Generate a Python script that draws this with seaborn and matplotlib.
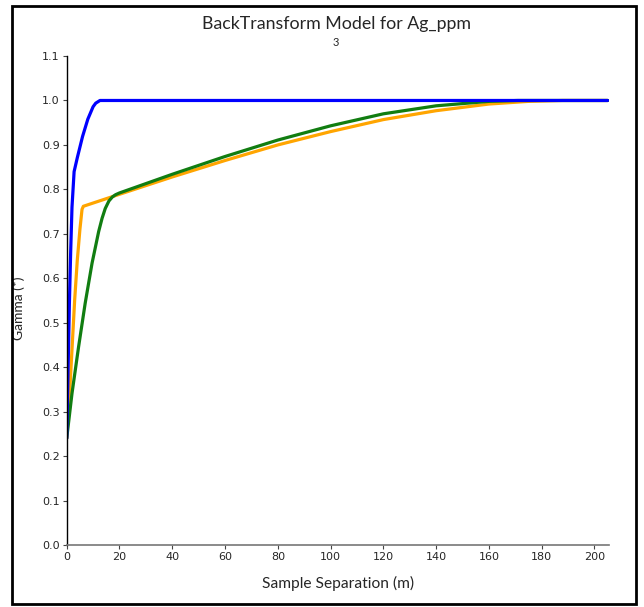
import pandas as pd
import seaborn as sns
import matplotlib.pyplot as plt
from matplotlib.patches import Rectangle

# model curves (lag in m, gamma)
blue_x = [0, 0.5, 1, 1.5, 2, 2.8, 4, 6, 8, 10, 11, 12.6, 205]
blue_y = [0.24, 0.39, 0.54, 0.66, 0.76, 0.84, 0.871, 0.919, 0.958, 0.986, 0.994, 1.0, 1.0]

orange_x = [0, 1, 2, 3, 4, 5, 5.8, 6.3, 20, 40, 60, 80, 100, 120, 140, 160, 175, 188, 205]
orange_y = [0.24, 0.33, 0.44, 0.55, 0.64, 0.71, 0.755, 0.762, 0.789, 0.828, 0.865, 0.900,
            0.930, 0.957, 0.977, 0.992, 0.998, 1.0, 1.0]

green_x = [0, 2, 4.5, 7, 9.6, 12.1, 13.4, 14.6, 16.0, 17.3, 18.5, 20, 40, 60, 80, 100, 120,
           140, 160, 171, 205]
green_y = [0.24, 0.341, 0.446, 0.544, 0.634, 0.705, 0.735, 0.757, 0.774, 0.783, 0.788, 0.792,
           0.834, 0.874, 0.911, 0.943, 0.970, 0.988, 0.998, 1.0, 1.0]

x_ticks = [0, 20, 40, 60, 80, 100, 120, 140, 160, 180, 200]
y_ticks = [0.0, 0.1, 0.2, 0.3, 0.4, 0.5, 0.6, 0.7, 0.8, 0.9, 1.0, 1.1]

df = pd.concat([
    pd.DataFrame({"lag": orange_x, "gamma": orange_y, "model": "orange"}),
    pd.DataFrame({"lag": green_x, "gamma": green_y, "model": "green"}),
    pd.DataFrame({"lag": blue_x, "gamma": blue_y, "model": "blue"}),
])

sns.set_style("ticks")
plt.rcParams["font.family"] = ["Lato", "DejaVu Sans"]

fig = plt.figure(figsize=(6.44, 6.07), dpi=100)
ax = fig.add_axes([0.1036, 0.1021, 0.842, 0.8056])

sns.lineplot(data=df, x="lag", y="gamma", hue="model", estimator=None,
             palette={"orange": "#FFA500", "green": "#117D11", "blue": "#0000FF"},
             linewidth=2.3, legend=False, ax=ax)

ax.set_xlim(0, 205.5)
ax.set_ylim(0, 1.1)
ax.set_xticks(x_ticks)
ax.set_yticks(y_ticks)
ax.set_yticklabels([f"{v:.1f}" for v in y_ticks])
for lbl in ax.get_xticklabels() + ax.get_yticklabels():
    lbl.set_family("DejaVu Sans")
    lbl.set_fontsize(8)
ax.tick_params(length=3, width=0.8, color="#444444", pad=2)
sns.despine(ax=ax)
ax.spines["left"].set_color("black")
ax.spines["bottom"].set_color("#777777")
ax.spines["left"].set_linewidth(1.0)
ax.spines["bottom"].set_linewidth(1.2)

ax.set_xlabel("Sample Separation (m)", fontsize=11.2, labelpad=10)
ax.set_ylabel("Gamma (*)", fontsize=10, labelpad=4)
ax.yaxis.set_label_coords(-0.077, 0.485)

fig.text(0.522, 0.961, "BackTransform Model for Ag_ppm", ha="center", va="center", fontsize=12.8)
fig.text(0.522, 0.93, "3", ha="center", va="center", fontsize=8)

fig.add_artist(Rectangle((12 / 644, 3 / 607), 624 / 644, 598 / 607, transform=fig.transFigure,
                         fill=False, edgecolor="black", linewidth=2))

fig.savefig("out.png", dpi=100)
